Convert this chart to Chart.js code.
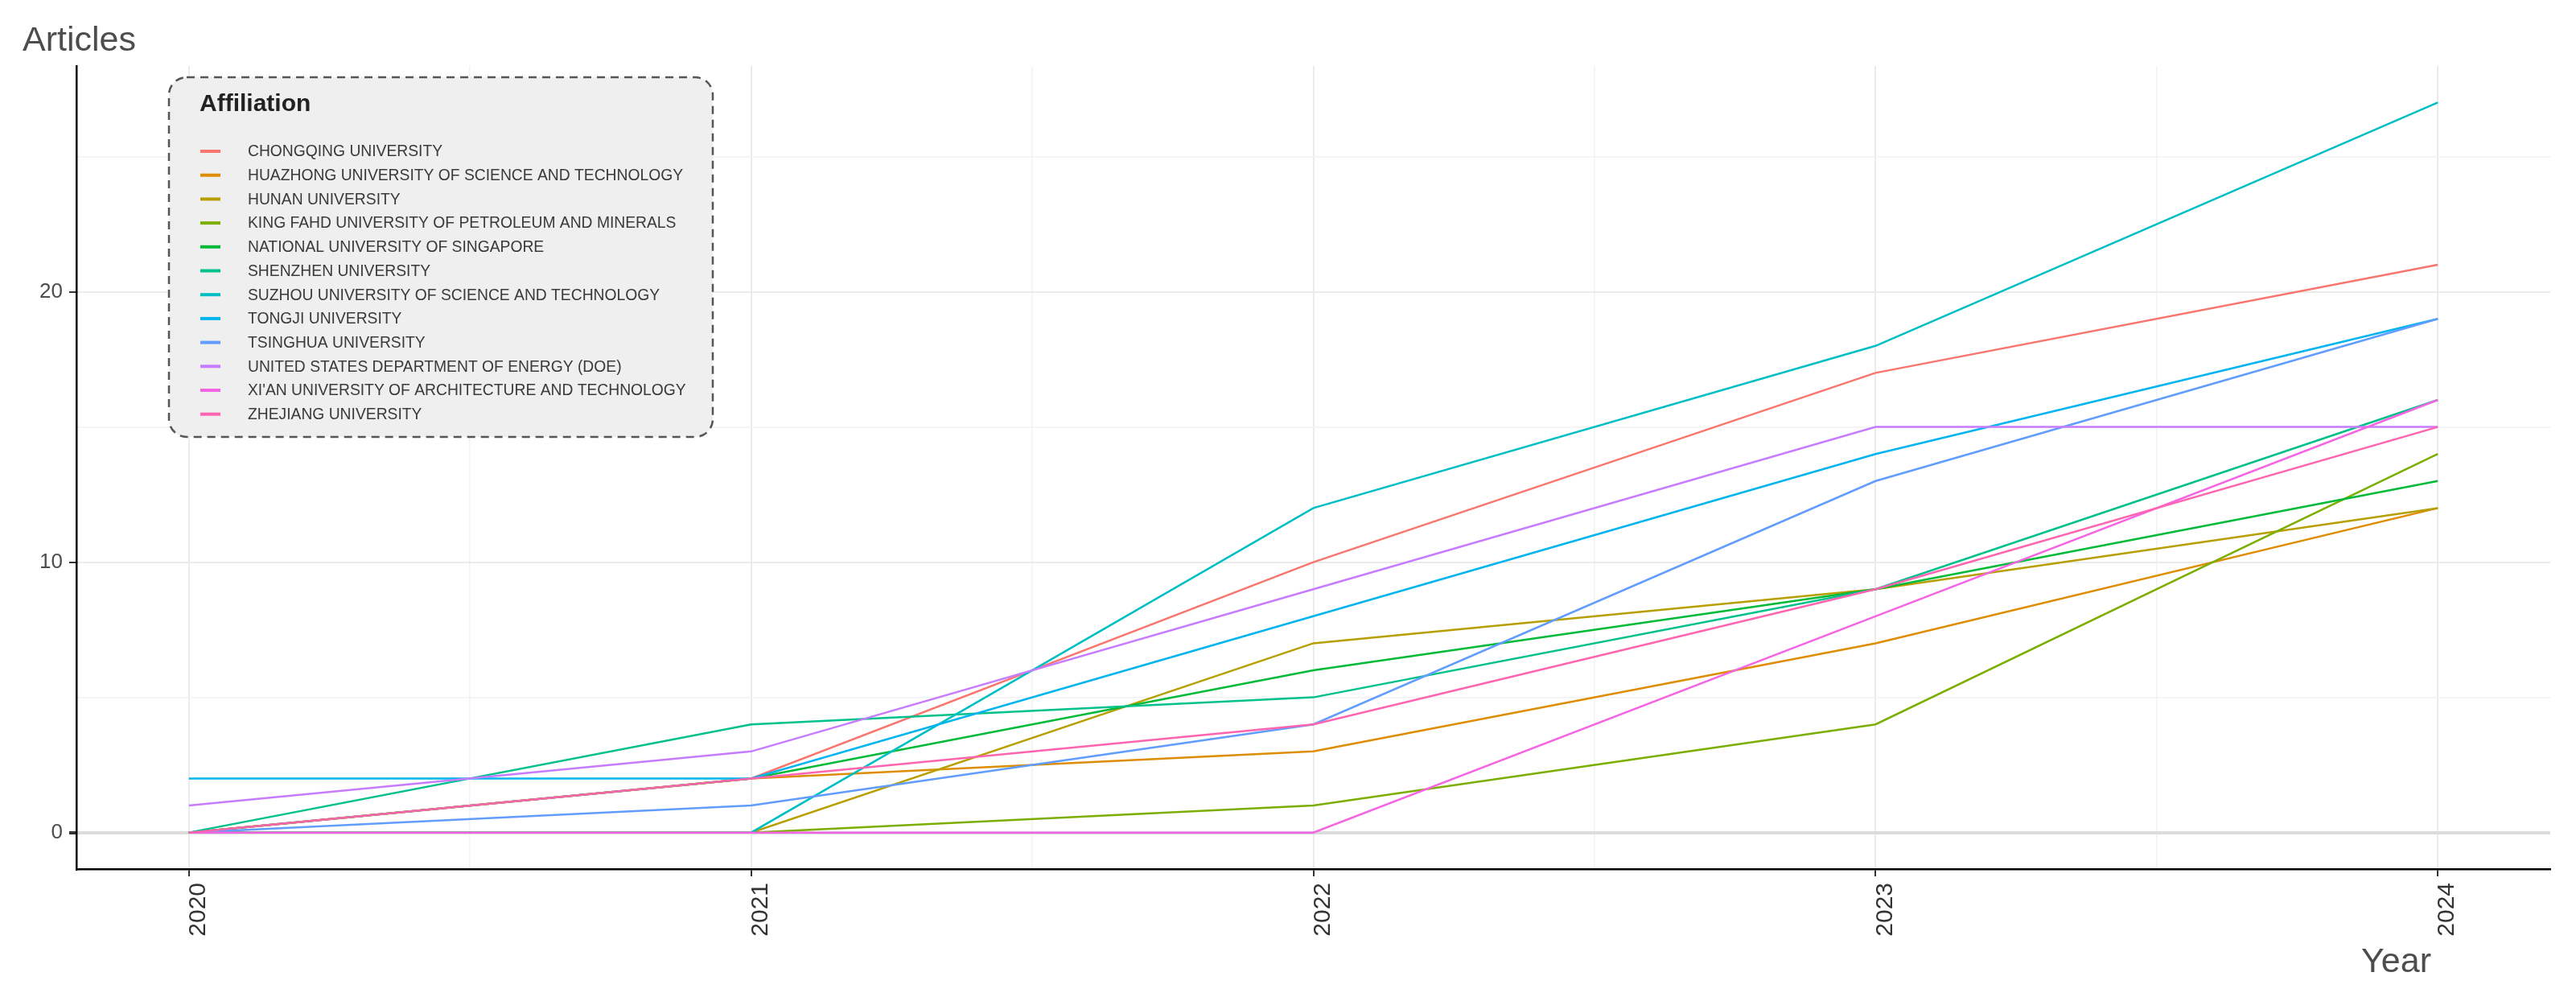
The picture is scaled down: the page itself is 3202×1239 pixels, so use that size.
<!DOCTYPE html>
<html>
<head>
<meta charset="utf-8">
<script src="https://cdn.jsdelivr.net/npm/chart.js@4.4.1/dist/chart.umd.min.js"></script>
<style>
  html, body { margin: 0; padding: 0; background: #fff; }
  canvas { display: block; }
</style>
</head>
<body>
<canvas id="c" width="3202" height="1239" style="width:3202px;height:1239px"></canvas>
<script>
const years = [2020, 2021, 2022, 2023, 2024]
const yTicks = [0, 5, 10, 15, 20, 25]
const xTicks = [2020, 2020.5, 2021, 2021.5, 2022, 2022.5, 2023, 2023.5, 2024]

const affiliations = [
  'CHONGQING UNIVERSITY',
  'HUAZHONG UNIVERSITY OF SCIENCE AND TECHNOLOGY',
  'HUNAN UNIVERSITY',
  'KING FAHD UNIVERSITY OF PETROLEUM AND MINERALS',
  'NATIONAL UNIVERSITY OF SINGAPORE',
  'SHENZHEN UNIVERSITY',
  'SUZHOU UNIVERSITY OF SCIENCE AND TECHNOLOGY',
  'TONGJI UNIVERSITY',
  'TSINGHUA UNIVERSITY',
  'UNITED STATES DEPARTMENT OF ENERGY (DOE)',
  "XI'AN UNIVERSITY OF ARCHITECTURE AND TECHNOLOGY",
  'ZHEJIANG UNIVERSITY'
]

const chongqing = [0, 2, 10, 17, 21]
const huazhong = [0, 2, 3, 7, 12]
const hunan = [0, 0, 7, 9, 12]
const kingFahd = [0, 0, 1, 4, 14]
const nus = [0, 2, 6, 9, 13]
const shenzhen = [0, 4, 5, 9, 16]
const suzhou = [0, 0, 12, 18, 27]
const tongji = [2, 2, 8, 14, 19]
const tsinghua = [0, 1, 4, 13, 19]
const doe = [1, 3, 9, 15, 15]
const xian = [0, 0, 0, 8, 16]
const zhejiang = [0, 2, 4, 9, 15]

const series = [chongqing, huazhong, hunan, kingFahd, nus, shenzhen,
  suzhou, tongji, tsinghua, doe, xian, zhejiang]

const colors = ['#F8766D', '#DE8C00', '#B79F00', '#7CAE00', '#00BA38', '#00C08B',
  '#00BFC4', '#00B4F0', '#619CFF', '#C77CFF', '#F564E3', '#FF64B0']

const FONT = "'Liberation Sans', Arial, sans-serif"

// ggplot draws the last group on top
const datasets = series.map((vals, i) => ({
  label: affiliations[i],
  data: years.map((y, j) => ({ x: y, y: vals[j] })),
  borderColor: colors[i],
  backgroundColor: colors[i],
  borderWidth: 2.5,
  pointRadius: 0,
  tension: 0,
  order: series.length - i
}))

const extras = {
  id: 'extras',
  afterDraw(chart) {
    const { ctx } = chart
    ctx.save()

    // axis titles
    ctx.fillStyle = '#4d4d4d'
    ctx.font = `43px ${FONT}`
    ctx.textBaseline = 'alphabetic'
    ctx.textAlign = 'left'
    ctx.fillText('Articles', 28, 63)
    ctx.textAlign = 'right'
    ctx.fillText('Year', 3022, 1208)

    // legend box
    const bx = 210, by = 96, bw = 676, bh = 447, r = 22
    ctx.beginPath()
    ctx.roundRect(bx, by, bw, bh, r)
    ctx.fillStyle = '#efefef'
    ctx.fill()
    ctx.setLineDash([10, 7])
    ctx.lineWidth = 2.5
    ctx.strokeStyle = '#555'
    ctx.stroke()
    ctx.setLineDash([])

    ctx.textAlign = 'left'
    ctx.fillStyle = '#222'
    ctx.font = `bold 30px ${FONT}`
    ctx.fillText('Affiliation', 248, 138)

    ctx.font = `19.3px ${FONT}`
    ctx.textBaseline = 'middle'
    chart.data.datasets.forEach((ds, i) => {
      const y = 188 + i * 29.7
      ctx.strokeStyle = ds.borderColor
      ctx.lineWidth = 4
      ctx.beginPath()
      ctx.moveTo(249, y)
      ctx.lineTo(274, y)
      ctx.stroke()
      ctx.fillStyle = '#3a3a3a'
      ctx.fillText(ds.label, 308, y + 1)
    })
    ctx.restore()
  }
}

new Chart(document.getElementById('c'), {
  type: 'line',
  data: { datasets },
  plugins: [extras],
  options: {
    responsive: false,
    animation: false,
    devicePixelRatio: 1,
    layout: { padding: { top: 82, right: 32, left: 0, bottom: 0 } },
    plugins: {
      legend: { display: false },
      tooltip: { enabled: false }
    },
    scales: {
      x: {
        type: 'linear',
        min: 2019.8,
        max: 2024.2,
        afterBuildTicks: s => { s.ticks = xTicks.map(v => ({ value: v })) },
        afterFit: s => { s.height = 159 },
        border: { display: true, color: '#000', width: 2.5 },
        grid: {
          color: c => Number.isInteger(c.tick.value) ? '#ebebeb' : '#f2f2f2',
          lineWidth: c => Number.isInteger(c.tick.value) ? 2 : 1.5,
          tickColor: c => Number.isInteger(c.tick.value) ? '#333' : 'rgba(0,0,0,0)',
          tickLength: 9
        },
        ticks: {
          autoSkip: false,
          minRotation: 90,
          maxRotation: 90,
          padding: 8,
          labelOffset: 12,
          color: '#333',
          font: { family: FONT, size: 30 },
          callback: v => Number.isInteger(v) ? String(v) : ''
        }
      },
      y: {
        type: 'linear',
        min: -1.35,
        max: 28.35,
        afterBuildTicks: s => { s.ticks = yTicks.map(v => ({ value: v })) },
        afterFit: s => { s.width = 95 },
        border: { display: true, color: '#000', width: 2.5 },
        grid: {
          color: c => c.tick.value === 0 ? '#dcdcdc' : (c.tick.value % 10 === 0 ? '#ebebeb' : '#f2f2f2'),
          lineWidth: c => c.tick.value === 0 ? 4 : (c.tick.value % 10 === 0 ? 2 : 1.5),
          tickColor: c => c.tick.value % 10 === 0 ? '#333' : 'rgba(0,0,0,0)',
          tickLength: 9
        },
        ticks: {
          padding: 8,
          color: '#4d4d4d',
          font: { family: FONT, size: 26 },
          callback: v => v % 10 === 0 ? String(v) : ''
        }
      }
    }
  }
})
</script>
</body>
</html>
